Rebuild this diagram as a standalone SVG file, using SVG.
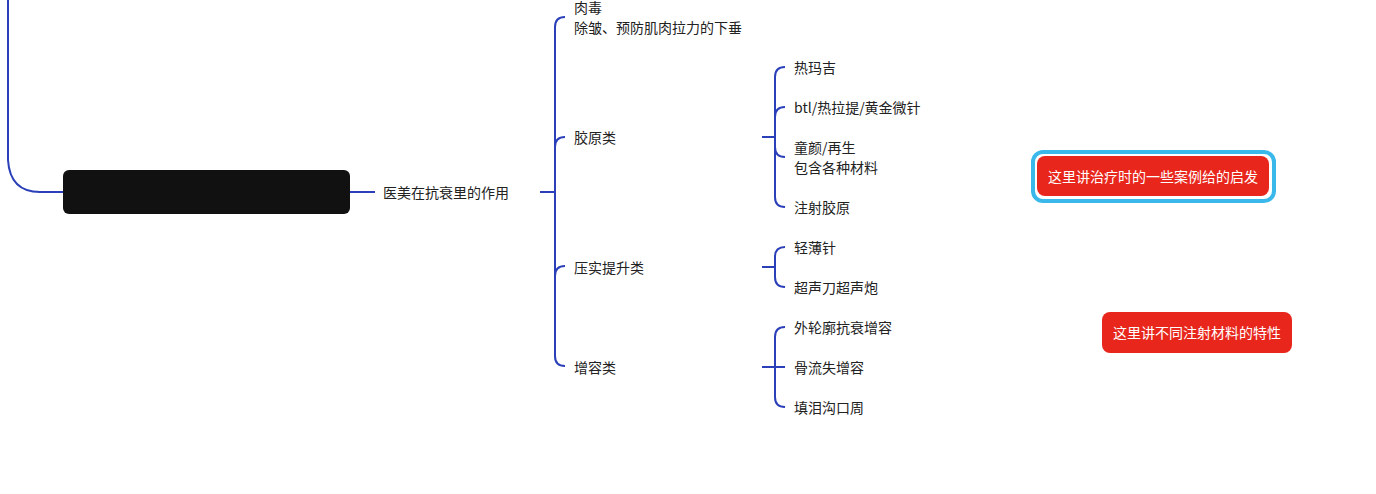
<svg xmlns="http://www.w3.org/2000/svg" width="1376" height="494" viewBox="0 0 1376 494">
<style>
text{font-family:"Noto Sans CJK SC","Noto Sans",sans-serif;font-size:14px;fill:#222;dominant-baseline:central}
.c path{fill:none;stroke:#2a3fb8;stroke-width:2}
.w{fill:#fff;font-size:14px}
</style>
<rect width="1376" height="494" fill="#fff"/>
<g class="c" id="connectors">
<path d="M8 0 V160 Q10 192 40 192 H63"/>
<path d="M350 192 H375"/>
<path d="M540 192 H555 M555 27 Q555 17 565 17 M555 27 V356 Q555 366 565 366 M555 147 Q555 137 565 137 M555 276 Q555 266 565 266"/>
<path d="M762 137 H775 M775 77 Q775 67 785 67 M775 77 V197 Q775 207 785 207 M775 117 Q775 107 785 107 M775 147 Q775 157 785 157"/>
<path d="M762 267 H775 M775 257 Q775 247 785 247 M775 257 V277 Q775 287 785 287"/>
<path d="M762 367 H785 M775 337 Q775 327 785 327 M775 337 V397 Q775 407 785 407"/>
</g>
<g id="root"><rect x="63" y="170" width="287" height="44" rx="6" fill="#111"/></g>
<g id="n1"><text x="383" y="192">医美在抗衰里的作用</text></g>
<g id="n2"><text x="574" y="7">肉毒</text><text x="574" y="27">除皱、预防肌肉拉力的下垂</text></g>
<g id="n3"><text x="574" y="137">胶原类</text></g>
<g id="n4"><text x="574" y="267">压实提升类</text></g>
<g id="n5"><text x="574" y="367">增容类</text></g>
<g id="n6"><text x="794" y="67">热玛吉</text></g>
<g id="n7"><text x="794" y="107">btl/热拉提/黄金微针</text></g>
<g id="n8"><text x="794" y="147">童颜/再生</text><text x="794" y="167">包含各种材料</text></g>
<g id="n9"><text x="794" y="207">注射胶原</text></g>
<g id="n10"><text x="794" y="247">轻薄针</text></g>
<g id="n11"><text x="794" y="287">超声刀超声炮</text></g>
<g id="n12"><text x="794" y="327">外轮廓抗衰增容</text></g>
<g id="n13"><text x="794" y="367">骨流失增容</text></g>
<g id="n14"><text x="794" y="407">填泪沟口周</text></g>
<g id="note1"><rect x="1033" y="152" width="241" height="49" rx="10" fill="none" stroke="#3bb8ea" stroke-width="4"/><rect x="1037" y="156" width="232" height="40" rx="8" fill="#e8261c"/><text class="w" x="1153" y="176" text-anchor="middle">这里讲治疗时的一些案例给的启发</text></g>
<g id="note2"><rect x="1102" y="312" width="190" height="41" rx="8" fill="#e8261c"/><text class="w" x="1197" y="332" text-anchor="middle">这里讲不同注射材料的特性</text></g>
</svg>
